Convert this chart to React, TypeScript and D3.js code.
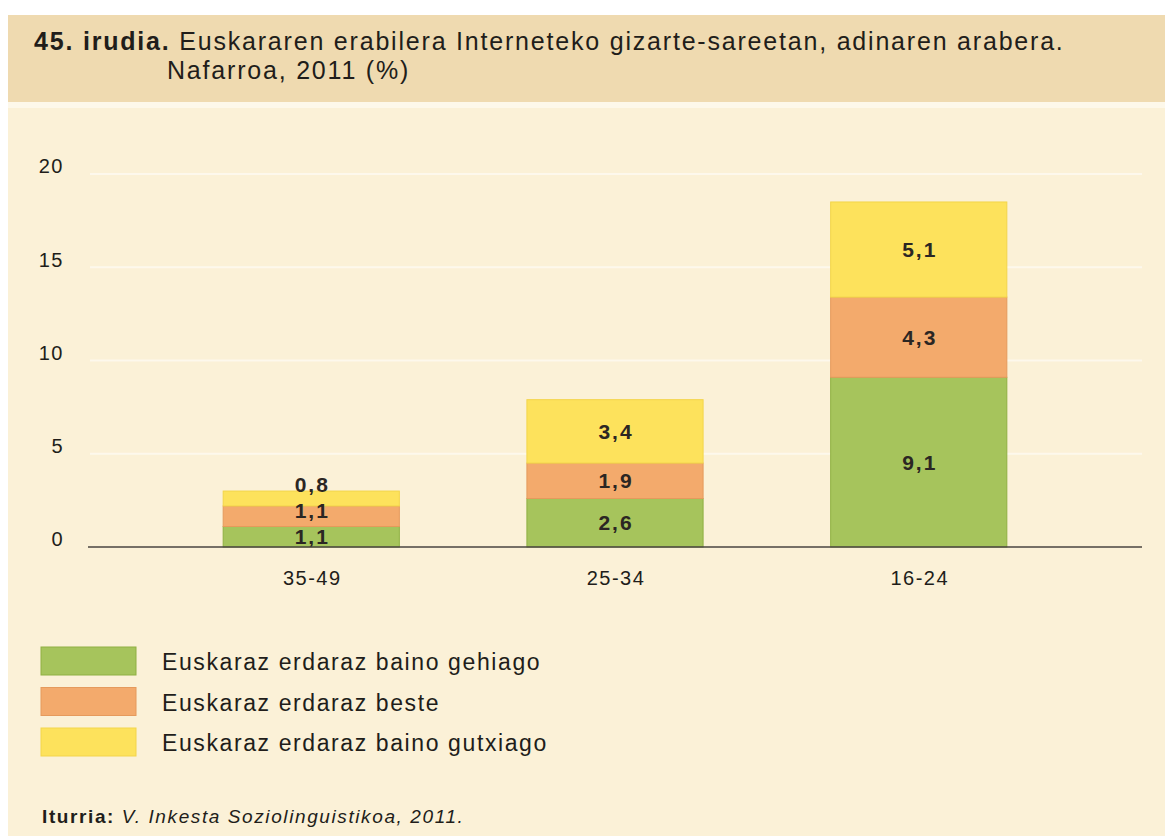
import React, { useEffect, useRef } from 'react';
import * as d3 from 'd3';

// age groups, left to right as in the picture
const ageGroups = ['35-49', '25-34', '16-24'];

// series (bottom to top in each stack)
const seriesNames = [
  'Euskaraz erdaraz baino gehiago',
  'Euskaraz erdaraz beste',
  'Euskaraz erdaraz baino gutxiago',
];
const moreBasque = [1.1, 2.6, 9.1];
const sameBasque = [1.1, 1.9, 4.3];
const lessBasque = [0.8, 3.4, 5.1];

const yTicks = [0, 5, 10, 15, 20];

const colors = ['#a6c45c', '#f3aa6c', '#fde25c'];
const strokes = ['#8fb043', '#e59a5c', '#f3d54a'];

const W = 1165;
const H = 836;
const FONT = "'Liberation Sans', Arial, sans-serif";
const INK = '#211d1a';

function App() {
  const ref = useRef<SVGSVGElement>(null);

  useEffect(() => {
    const svg = d3.select(ref.current);
    svg.selectAll('*').remove();

    // backgrounds
    svg.append('rect').attr('width', W).attr('height', H).attr('fill', '#ffffff');
    svg.append('rect').attr('x', 8).attr('y', 108).attr('width', W - 8).attr('height', H - 108).attr('fill', '#fbf1d7');
    svg.append('rect').attr('x', 8).attr('y', 102).attr('width', W - 8).attr('height', 6).attr('fill', '#fdf8ea');
    svg.append('rect').attr('x', 8).attr('y', 15).attr('width', W - 8).attr('height', 87).attr('fill', '#efdab0');

    // title
    const t1 = svg.append('text').attr('x', 34).attr('y', 50)
      .attr('font-family', FONT).attr('font-size', 25).attr('letter-spacing', 1.8).attr('fill', INK);
    t1.append('tspan').attr('font-weight', 'bold').text('45. irudia.');
    t1.append('tspan').text(' Euskararen erabilera Interneteko gizarte-sareetan, adinaren arabera.');
    svg.append('text').attr('x', 167).attr('y', 79)
      .attr('font-family', FONT).attr('font-size', 25).attr('letter-spacing', 1.8).attr('fill', INK)
      .text('Nafarroa, 2011 (%)');

    const x = d3.scaleBand<string>()
      .domain(ageGroups)
      .range([88, 1142])
      .paddingInner(0.42)
      .paddingOuter(0.445);

    const y = d3.scaleLinear().domain([0, 20]).range([547, 174]);

    // gridlines
    svg.append('g').selectAll('line')
      .data(yTicks.filter(d => d > 0))
      .enter().append('line')
      .attr('x1', 90).attr('x2', 1142)
      .attr('y1', d => y(d)).attr('y2', d => y(d))
      .attr('stroke', '#fdf8ec').attr('stroke-width', 2);

    // y tick labels
    svg.append('g').selectAll('text')
      .data(yTicks)
      .enter().append('text')
      .attr('x', 64)
      .attr('y', d => y(d) - 6)
      .attr('text-anchor', 'end')
      .attr('dominant-baseline', 'middle')
      .attr('font-family', FONT).attr('font-size', 20).attr('letter-spacing', 1.5)
      .attr('fill', INK)
      .text(d => d);

    // stacked data
    const rows = ageGroups.map((g, i) => ({
      group: g,
      s0: moreBasque[i],
      s1: sameBasque[i],
      s2: lessBasque[i],
    }));
    const stack = d3.stack<any>().keys(['s0', 's1', 's2']);
    const layers = stack(rows);

    const barG = svg.append('g');
    layers.forEach((layer, li) => {
      barG.selectAll('rect.l' + li)
        .data(layer)
        .enter().append('rect')
        .attr('x', d => x(d.data.group)!)
        .attr('width', x.bandwidth())
        .attr('y', d => y(d[1]))
        .attr('height', d => y(d[0]) - y(d[1]))
        .attr('fill', colors[li])
        .attr('stroke', strokes[li])
        .attr('stroke-width', 1);
    });

    // value labels: centred in each segment, pushed up when segments are too thin
    const minGap = 26;
    ageGroups.forEach((g, gi) => {
      let prev = Infinity;
      layers.forEach(layer => {
        const d = layer[gi];
        let c = (y(d[0]) + y(d[1])) / 2;
        c = Math.min(c, prev - minGap);
        prev = c;
        barG.append('text')
          .attr('x', x(g)! + x.bandwidth() / 2 + 1)
          .attr('y', c + 7.5)
          .attr('text-anchor', 'middle')
          .attr('font-family', FONT).attr('font-size', 21).attr('font-weight', 'bold')
          .attr('letter-spacing', 2)
          .attr('fill', '#2b2623')
          .text(d3.format('.1f')(d[1] - d[0]).replace('.', ','));
      });
    });

    // x axis line
    svg.append('line')
      .attr('x1', 88).attr('x2', 1142)
      .attr('y1', y(0)).attr('y2', y(0))
      .attr('stroke', '#4a4440').attr('stroke-width', 1.5);

    // category labels
    svg.append('g').selectAll('text')
      .data(ageGroups)
      .enter().append('text')
      .attr('x', d => x(d)! + x.bandwidth() / 2 + 1)
      .attr('y', 585)
      .attr('text-anchor', 'middle')
      .attr('font-family', FONT).attr('font-size', 20).attr('letter-spacing', 1.5)
      .attr('fill', INK)
      .text(d => d);

    // legend
    const leg = svg.append('g').selectAll('g')
      .data(seriesNames)
      .enter().append('g')
      .attr('transform', (d, i) => `translate(41, ${647 + i * 40.5})`);
    leg.append('rect')
      .attr('width', 95).attr('height', 28)
      .attr('fill', (d, i) => colors[i])
      .attr('stroke', (d, i) => strokes[i]);
    leg.append('text')
      .attr('x', 121).attr('y', 23)
      .attr('font-family', FONT).attr('font-size', 23).attr('letter-spacing', 1.6)
      .attr('fill', INK)
      .text(d => d);

    // source
    const src = svg.append('text').attr('x', 42).attr('y', 823)
      .attr('font-family', FONT).attr('font-size', 19).attr('letter-spacing', 1.6).attr('fill', INK);
    src.append('tspan').attr('font-weight', 'bold').text('Iturria:');
    src.append('tspan').attr('font-style', 'italic').text(' V. Inkesta Soziolinguistikoa, 2011.');
  }, []);

  return (
    <div style={{ position: 'absolute', left: 0, top: 0 }}>
      <svg ref={ref} width={W} height={H} style={{ display: 'block' }}></svg>
    </div>
  );
}

export default App;
